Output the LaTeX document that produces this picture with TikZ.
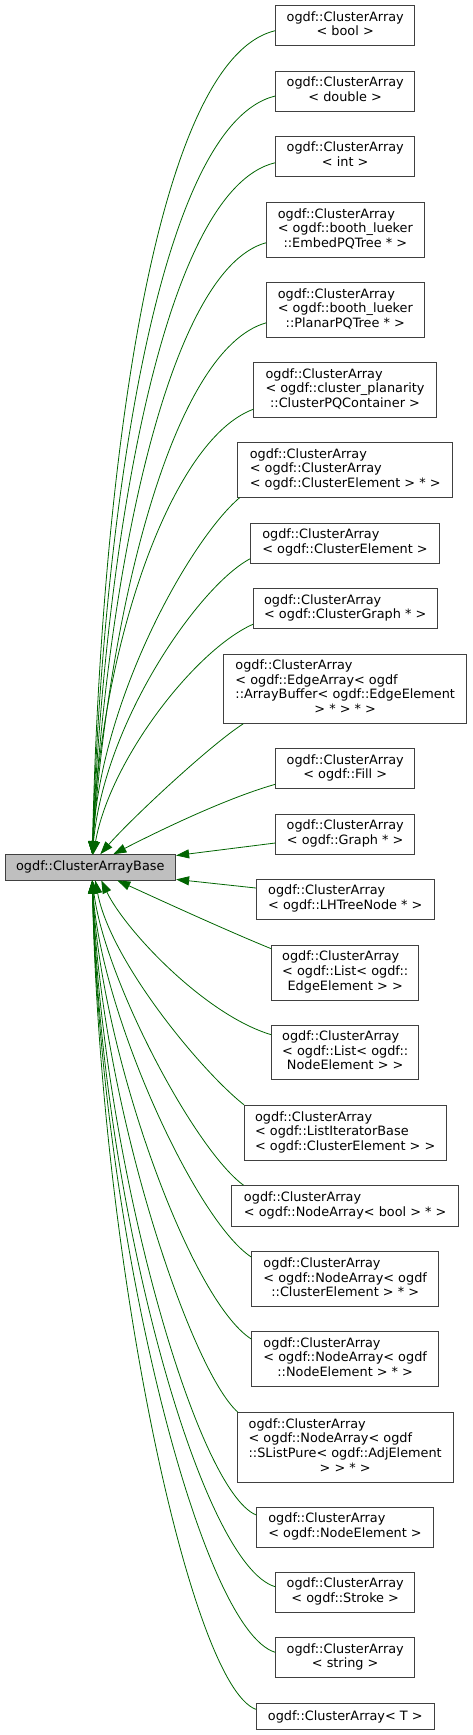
\documentclass[tikz,border=0pt]{standalone}
\usepackage{fontspec}
\setmainfont{DejaVu Sans}
\usetikzlibrary{arrows.meta}
\definecolor{edgegreen}{RGB}{0,100,0}
\definecolor{boxline}{RGB}{64,64,64}
\definecolor{basefill}{RGB}{191,191,191}
\newcommand{\clsl}[2]{\begin{tabular}{@{}l@{}}#1\\\multicolumn{1}{@{}c@{}}{#2}\end{tabular}}
\begin{document}
\begin{tikzpicture}[x=1pt,y=-1pt,
  cls/.style={draw=boxline, line width=0.9pt, fill=white, inner sep=0pt,
    font=\fontsize{12.85}{14.6}\selectfont, text=black},
  inh/.style={draw=edgegreen, line width=0.8pt, -{Triangle[length=13pt,width=9pt]}}]
\useasboundingbox (0,0) rectangle (472,1735);

\node[cls, fill=basefill, minimum width=170.7pt, minimum height=25.3pt] (base) at (90.3,867.3) {ogdf::ClusterArrayBase};

\node[cls, minimum width=139pt, minimum height=40pt] (n1) at (345.2,25.7) {\clsl{ogdf::ClusterArray}{< bool >}};
\node[cls, minimum width=139pt, minimum height=40pt] (n2) at (345.2,91) {\clsl{ogdf::ClusterArray}{< double >}};
\node[cls, minimum width=139pt, minimum height=40pt] (n3) at (345.2,156.3) {\clsl{ogdf::ClusterArray}{< int >}};
\node[cls, minimum width=157.3pt, minimum height=54.7pt] (n4) at (345.3,229.7) {\clsl{ogdf::ClusterArray\\< ogdf::booth\_lueker}{::EmbedPQTree * >}};
\node[cls, minimum width=157.3pt, minimum height=54.5pt] (n5) at (345.3,309.8) {\clsl{ogdf::ClusterArray\\< ogdf::booth\_lueker}{::PlanarPQTree * >}};
\node[cls, minimum width=182.6pt, minimum height=54.5pt] (n6) at (345,389.8) {\clsl{ogdf::ClusterArray\\< ogdf::cluster\_planarity}{::ClusterPQContainer >}};
\node[cls, minimum width=215pt, minimum height=54.6pt] (n7) at (345.2,470) {\clsl{ogdf::ClusterArray\\< ogdf::ClusterArray}{< ogdf::ClusterElement > * >}};
\node[cls, minimum width=188.6pt, minimum height=39.7pt] (n8) at (345,543.2) {\clsl{ogdf::ClusterArray}{< ogdf::ClusterElement >}};
\node[cls, minimum width=183.7pt, minimum height=39.6pt] (n9) at (345.2,608.5) {\clsl{ogdf::ClusterArray}{< ogdf::ClusterGraph * >}};
\node[cls, minimum width=243pt, minimum height=69.3pt] (n10) at (345.2,688.7) {\clsl{ogdf::ClusterArray\\< ogdf::EdgeArray< ogdf\\::ArrayBuffer< ogdf::EdgeElement}{> * > * >}};
\node[cls, minimum width=139pt, minimum height=40pt] (n11) at (345.2,768.7) {\clsl{ogdf::ClusterArray}{< ogdf::Fill >}};
\node[cls, minimum width=139pt, minimum height=40pt] (n12) at (345.2,834) {\clsl{ogdf::ClusterArray}{< ogdf::Graph * >}};
\node[cls, minimum width=178pt, minimum height=40pt] (n13) at (345.3,899) {\clsl{ogdf::ClusterArray}{< ogdf::LHTreeNode * >}};
\node[cls, minimum width=147pt, minimum height=55pt] (n14) at (345.2,972.5) {\clsl{ogdf::ClusterArray\\< ogdf::List< ogdf::}{EdgeElement > >}};
\node[cls, minimum width=147pt, minimum height=54.7pt] (n15) at (345.2,1052.3) {\clsl{ogdf::ClusterArray\\< ogdf::List< ogdf::}{NodeElement > >}};
\node[cls, minimum width=202.3pt, minimum height=54.7pt] (n16) at (345.2,1132.7) {\clsl{ogdf::ClusterArray\\< ogdf::ListIteratorBase}{< ogdf::ClusterElement > >}};
\node[cls, minimum width=227pt, minimum height=40.3pt] (n17) at (345.2,1205.8) {\clsl{ogdf::ClusterArray}{< ogdf::NodeArray< bool > * >}};
\node[cls, minimum width=187pt, minimum height=55pt] (n18) at (345.2,1279.2) {\clsl{ogdf::ClusterArray\\< ogdf::NodeArray< ogdf}{::ClusterElement > * >}};
\node[cls, minimum width=187pt, minimum height=55.4pt] (n19) at (345.2,1359) {\clsl{ogdf::ClusterArray\\< ogdf::NodeArray< ogdf}{::NodeElement > * >}};
\node[cls, minimum width=216.3pt, minimum height=69.3pt] (n20) at (345.2,1447.3) {\clsl{ogdf::ClusterArray\\< ogdf::NodeArray< ogdf\\::SListPure< ogdf::AdjElement}{> > * >}};
\node[cls, minimum width=176.6pt, minimum height=39.7pt] (n21) at (345,1527.2) {\clsl{ogdf::ClusterArray}{< ogdf::NodeElement >}};
\node[cls, minimum width=139pt, minimum height=40pt] (n22) at (345.2,1592.3) {\clsl{ogdf::ClusterArray}{< ogdf::Stroke >}};
\node[cls, minimum width=139pt, minimum height=40pt] (n23) at (345.2,1657.7) {\clsl{ogdf::ClusterArray}{< string >}};
\node[cls, minimum width=178pt, minimum height=25.6pt] (n24) at (345.3,1716.5) {ogdf::ClusterArray< T >};

% edges above the base
\draw[inh] ([yshift=-5pt]n1.west) .. controls (150,60) and (100,500) .. ([xshift=2pt]base.north);
\draw[inh] ([yshift=-5pt]n2.west) .. controls (155,125) and (102,530) .. ([xshift=2pt]base.north);
\draw[inh] ([yshift=-6.4pt]n3.west) .. controls (160,190) and (104,560) .. ([xshift=2pt]base.north);
\draw[inh] ([yshift=-13pt]n4.west) .. controls (165,270) and (106,590) .. ([xshift=2pt]base.north);
\draw[inh] ([yshift=-13pt]n5.west) .. controls (170,350) and (108,620) .. ([xshift=2pt]base.north);
\draw[inh] ([yshift=-19.5pt]n6.west) .. controls (170,440) and (100,650) .. ([xshift=2pt]base.north);
\draw[inh] ([xshift=2.3pt]n7.south west) .. controls (190,540) and (100,700) .. ([xshift=2pt]base.north);
\draw[inh] ([yshift=-15.5pt]n8.west) .. controls (200,585) and (105,720) .. ([xshift=2pt]base.north);
\draw[inh] ([yshift=-15.8pt]n9.west) .. controls (195,650) and (110,760) .. ([xshift=3pt]base.north);
\draw[inh] ([xshift=20pt]n10.south west) .. controls (210,745) and (130,820) .. ([xshift=10pt]base.north);
\draw[inh] ([yshift=-15.6pt]n11.west) .. controls (220,800) and (145,838) .. ([xshift=23pt]base.north);
\draw[inh] ([yshift=-9pt]n12.west) -- ([yshift=-1.3pt]base.north east);
% edges below the base
\draw[inh] ([yshift=11pt]n13.west) -- ([yshift=1pt]base.south east);
\draw[inh] ([yshift=23.8pt]n14.west) .. controls (230,932) and (160,900) .. ([xshift=27pt]base.south);
\draw[inh] ([yshift=17.6pt]n15.west) .. controls (205,1015) and (125,930) .. ([xshift=11pt]base.south);
\draw[inh] ([xshift=0.5pt]n16.north west) .. controls (200,1070) and (110,960) .. ([xshift=5pt]base.south);
\draw[inh] ([xshift=12.3pt]n17.north west) .. controls (195,1150) and (105,980) .. ([xshift=2pt]base.south);
\draw[inh] ([yshift=22.2pt]n18.west) .. controls (195,1220) and (100,1010) .. ([xshift=2pt]base.south);
\draw[inh] ([yshift=20pt]n19.west) .. controls (190,1300) and (100,1050) .. ([xshift=2pt]base.south);
\draw[inh] ([xshift=1.3pt]n20.north west) .. controls (190,1370) and (100,1100) .. ([xshift=2pt]base.south);
\draw[inh] ([yshift=12.2pt]n21.west) .. controls (195,1490) and (100,1150) .. ([xshift=2pt]base.south);
\draw[inh] ([yshift=5.6pt]n22.west) .. controls (200,1565) and (100,1200) .. ([xshift=2pt]base.south);
\draw[inh] ([yshift=5.4pt]n23.west) .. controls (200,1630) and (100,1230) .. ([xshift=2pt]base.south);
\draw[inh] ([yshift=7.2pt]n24.west) .. controls (190,1685) and (100,1260) .. ([xshift=2pt]base.south);
\end{tikzpicture}
\end{document}
